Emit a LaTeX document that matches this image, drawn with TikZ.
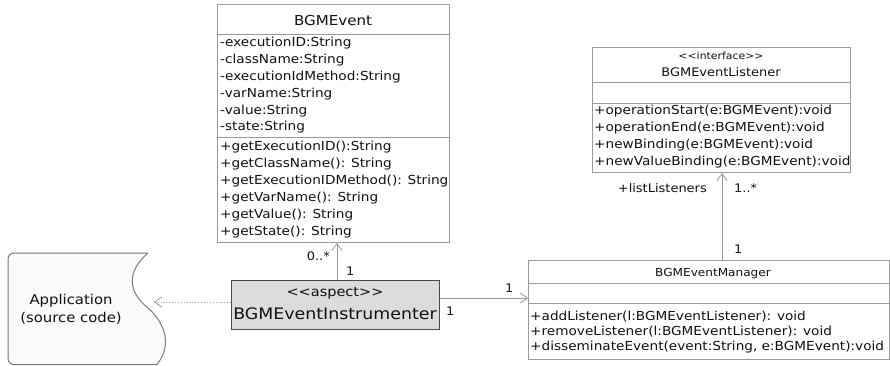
\documentclass[tikz,border=0pt]{standalone}
\usepackage{fontspec}
\setmainfont[FakeStretch=1.1]{DejaVu Sans}
\usetikzlibrary{arrows.meta}
\definecolor{linegray}{HTML}{9A9A9A}
\definecolor{textc}{HTML}{111111}
\definecolor{aspfill}{HTML}{DCDCDC}
\definecolor{aspdraw}{HTML}{4A4A4A}
\definecolor{appfill}{HTML}{FAFAFA}
\definecolor{appdraw}{HTML}{7A7A7A}
\begin{document}
\begin{tikzpicture}[x=1pt,y=-1pt,
  umlbox/.style={draw=linegray, line width=0.9pt, fill=white, anchor=north west, inner sep=0pt},
  sep/.style={draw=linegray, line width=0.9pt},
  txt/.style={inner sep=0pt, anchor=base west, text=textc, font=\fontsize{12.4}{15}\selectfont},
  ctxt/.style={inner sep=0pt, anchor=base, text=textc},
  lbl/.style={inner sep=0pt, text=textc, font=\fontsize{11.8}{14}\selectfont},
  conn/.style={draw=linegray, line width=0.9pt},
  openarrow/.style={-{Straight Barb[length=7pt,width=10pt,line width=0.8pt]}},
]
\useasboundingbox (0,0) rectangle (890,366);

% ---------- BGMEvent ----------
\node[umlbox, minimum width=232pt, minimum height=238pt] (ev) at (217,4) {};
\draw[sep] (217,34) -- (449,34);
\draw[sep] (217,137) -- (449,137);
\node[ctxt, font=\fontsize{13.7}{16}\selectfont] (evt) at (333,26) {BGMEvent};
\foreach \t [count=\i] in {-executionID:String,-className:String,-executionIdMethod:String,-varName:String,-value:String,-state:String}
  \node[txt] (eva\i) at (220,{47+16.8*(\i-1)}) {\t};
\foreach \t [count=\i] in {+getExecutionID():String,+getClassName(): String,+getExecutionIDMethod(): String,+getVarName(): String,+getValue(): String,+getState(): String}
  \node[txt] (evm\i) at (220,{151+16.8*(\i-1)}) {\t};

% ---------- BGMEventListener ----------
\node[umlbox, minimum width=258pt, minimum height=125pt] (li) at (592,47) {};
\draw[sep] (592,82) -- (850,82);
\draw[sep] (592,103) -- (850,103);
\node[ctxt, font=\fontsize{9.9}{12}\selectfont] (lis) at (721,60) {<{}<interface>{}>};
\node[ctxt, font=\fontsize{11.8}{14}\selectfont] (lit) at (721,77) {BGMEventListener};
\foreach \t [count=\i] in {+operationStart(e:BGMEvent):void,+operationEnd(e:BGMEvent):void,+newBinding(e:BGMEvent):void,+newValueBinding(e:BGMEvent):void}
  \node[txt] (lim\i) at (594,{115+16.7*(\i-1)}) {\t};

% ---------- BGMEventManager ----------
\node[umlbox, minimum width=361pt, minimum height=99pt] (ma) at (528,260) {};
\draw[sep] (528,283) -- (889,283);
\draw[sep] (528,303) -- (889,303);
\node[ctxt, font=\fontsize{11}{13}\selectfont] (mat) at (713,276) {BGMEventManager};
\foreach \t [count=\i] in {+addListener(l:BGMEventListener): void,+removeListener(l:BGMEventListener): void,{+disseminateEvent(event:String, e:BGMEvent):void}}
  \node[txt] (mam\i) at (530,{320+15*(\i-1)}) {\t};

% ---------- Aspect ----------
\node[draw=aspdraw, fill=aspfill, line width=0.9pt, anchor=north west, inner sep=0pt,
      minimum width=208pt, minimum height=49pt] (asp) at (231,280) {};
\node[ctxt, font=\fontsize{13.2}{15}\selectfont] (asps) at (335,296) {<{}<aspect>{}>};
\node[ctxt, font=\fontsize{15.8}{18}\selectfont] (aspt) at (335,319) {BGMEventInstrumenter};

% ---------- Application ----------
\draw[draw=appdraw, fill=appfill, line width=1pt]
  (148,253) .. controls (126,272) and (128,292) .. (148,308)
  .. controls (166,324) and (172,346) .. (157,364.5)
  [rounded corners=6pt] -- (8,364.5) -- (8,253) -- (148,253);
\node[ctxt, font=\fontsize{13.5}{16}\selectfont] (app1) at (71,304) {Application};
\node[ctxt, font=\fontsize{13.5}{16}\selectfont] (app2) at (71,322) {(source code)};
\coordinate (apptip) at (154,302);

% ---------- Connectors ----------
\draw[conn, openarrow] (asp.north -| 337,0) -- (ev.south -| 337,0);
\node[lbl, anchor=base east] (l1) at (330,260) {0..*};
\node[lbl, anchor=base west] (l2) at (346,275) {1};

\draw[conn, openarrow, dotted] (asp.west |- 0,302) -- (apptip);

\draw[conn, openarrow] (asp.east |- 0,298) -- (ma.west |- 0,298);
\node[lbl, anchor=base west] (l3) at (446,315) {1};
\node[lbl, anchor=base west] (l4) at (505,292) {1};

\draw[conn, openarrow] (ma.north -| 722,0) -- (li.south -| 722,0);
\node[lbl, anchor=base east] (l5) at (707,192) {+listListeners};
\node[lbl, anchor=base west] (l6) at (734,192) {1..*};
\node[lbl, anchor=base west] (l7) at (734,253) {1};
\end{tikzpicture}
\end{document}
